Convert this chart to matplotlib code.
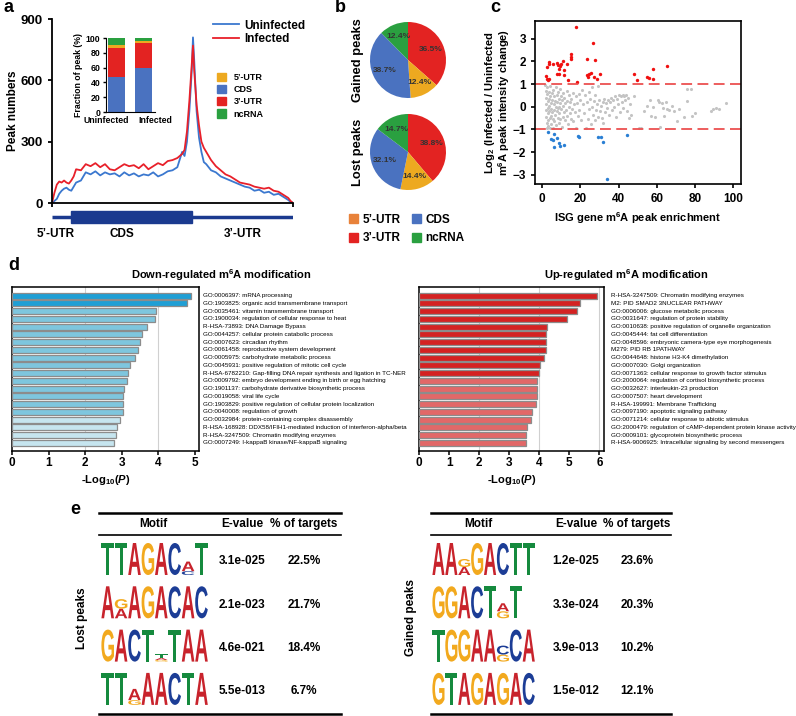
import matplotlib
matplotlib.use('Agg')
import matplotlib.pyplot as plt
from matplotlib.patches import Patch, Rectangle, PathPatch
from matplotlib.textpath import TextPath
from matplotlib.font_manager import FontProperties
from matplotlib.transforms import Affine2D

plt.rcParams['font.family'] = ['Liberation Sans', 'DejaVu Sans']
plt.rcParams['font.weight'] = 'bold'
plt.rcParams['axes.labelweight'] = 'bold'
plt.rcParams['mathtext.fontset'] = 'custom'
plt.rcParams['mathtext.rm'] = 'Liberation Sans:bold'
plt.rcParams['mathtext.bf'] = 'Liberation Sans:bold'
plt.rcParams['mathtext.it'] = 'Liberation Sans:italic:bold'

# ---------------- data ----------------
# a: metagene peak profile (bin position along transcript, 0-100)
pos = [0, 1, 2, 3, 4, 5, 6, 7, 8, 9, 10, 12, 14, 16, 18, 20, 22, 24, 26, 28, 30, 32, 34, 36, 38, 40,
       42, 44, 46, 48, 50, 52, 54, 55, 56, 57, 58, 58.5, 59, 60, 61, 62, 63, 64, 66, 68, 70, 72, 74,
       76, 78, 80, 82, 84, 86, 88, 90, 92, 94, 96, 98, 99, 100]
uninfected = [0, 10, 20, 45, 60, 70, 75, 65, 60, 80, 100, 110, 150, 140, 155, 135, 150, 140, 145, 130,
              150, 135, 145, 130, 140, 135, 150, 130, 140, 155, 160, 175, 250, 230, 300, 450, 650, 810,
              700, 450, 320, 250, 200, 190, 160, 150, 130, 120, 110, 100, 90, 80, 75, 60, 65, 50, 55,
              40, 45, 30, 15, 5, 0]
infected = [0, 50, 90, 105, 100, 110, 100, 95, 110, 130, 165, 160, 190, 180, 195, 175, 190, 165, 160,
            175, 190, 180, 185, 170, 190, 165, 180, 195, 185, 205, 210, 220, 240, 260, 350, 500, 680,
            770, 650, 480, 380, 300, 270, 250, 210, 180, 160, 140, 130, 115, 100, 95, 90, 80, 75, 70,
            75, 60, 55, 40, 25, 10, 0]
cds_start, cds_end = 8, 58

# a inset: fraction of peaks per region (%)
groups = ['Uninfected', 'Infected']
frac_cds = [47, 59]
frac_3utr = [40, 34]
frac_5utr = [3, 3]
frac_ncrna = [10, 4]

# b: pies, order 3'-UTR, 5'-UTR, CDS, ncRNA (clockwise from top)
gained = [36.5, 12.4, 38.7, 12.4]
lost = [38.8, 14.4, 32.1, 14.7]

# c: scatter (ISG enrichment, log2 fold change)
up_pts = [(2.3, 1.76), (2.1, 1.35), (2.6, 1.24), (3.1, 1.17), (3.7, 1.2), (3.5, 1.98), (3.7, 1.9),
          (5.8, 1.9), (7.9, 1.93), (8.4, 1.86), (8.9, 1.68), (9.3, 1.79), (7.9, 1.46), (8.9, 1.46),
          (10.0, 1.9), (11.0, 2.02), (11.3, 1.61), (11.3, 1.39), (12.9, 1.9), (13.6, 1.17), (14.8, 2.34),
          (14.8, 2.2), (14.8, 2.12), (17.6, 3.51), (18.3, 1.1), (23.6, 2.12), (23.6, 1.39), (24.1, 1.32),
          (24.6, 1.46), (25.3, 1.49), (26.7, 2.81), (27.6, 2.08), (27.2, 1.32), (28.4, 1.24), (30.2, 1.43),
          (48.2, 1.46), (49.7, 1.17), (54.6, 1.29), (55.6, 1.26), (57.8, 1.68), (58.1, 1.24), (65.4, 1.79)]
down_pts = [(2.8, -1.13), (4.4, -1.43), (5.4, -1.49), (6.3, -1.2), (6.1, -1.76), (7.5, -1.39), (8.6, -1.61),
            (9.4, -1.73), (11.3, -1.68), (18.8, -1.29), (19.4, -1.35), (29.3, -1.32), (30.5, -1.35),
            (31.9, -1.54), (44.2, -1.24), (33.7, -3.18)]
gray_pts = [(1.5, 0.95), (1.8, 0.7), (1.9, 0.4), (2.0, 0.1), (2.1, -0.15), (2.2, -0.45), (2.3, -0.7),
            (2.4, -0.95), (2.6, 0.85), (2.7, 0.55), (2.8, 0.25), (2.9, -0.05), (3.0, -0.3), (3.1, -0.6),
            (3.2, -0.85), (3.4, 0.65), (3.5, 0.35), (3.6, 0.05), (3.7, -0.2), (3.8, -0.5), (3.9, -0.95),
            (4.1, 0.9), (4.3, 0.45), (4.4, 0.15), (4.6, -0.1), (4.7, -0.4), (4.8, -0.75), (5.0, 0.6),
            (5.2, 0.3), (5.3, -0.25), (5.5, -0.55), (5.6, -0.95), (5.8, 0.75), (6.0, 0.1), (6.1, -0.15),
            (6.3, 0.45), (6.4, -0.65), (6.6, 0.25), (6.8, -0.35), (7.0, 0.85), (7.1, 0.0), (7.3, -0.8),
            (7.5, 0.5), (7.6, -0.2), (7.8, 0.2), (8.0, -0.5), (8.1, 0.65), (8.3, -0.05), (8.5, 0.35),
            (8.6, -0.7), (8.8, 0.0), (9.0, -0.3), (9.1, 0.8), (9.3, 0.15), (9.5, -0.55), (9.7, 0.45),
            (9.9, -0.1), (10.1, -0.9), (10.3, 0.3), (10.6, -0.45), (10.8, 0.6), (11.0, 0.05), (11.3, -0.25),
            (11.6, 0.4), (11.8, -0.6), (12.1, 0.15), (12.4, -0.15), (12.7, 0.7), (13.0, -0.4), (13.2, 0.25),
            (13.5, -0.75), (13.8, 0.0), (14.1, 0.5), (14.4, -0.3), (14.7, 0.2), (15.0, -0.55), (15.3, 0.35),
            (15.6, -0.1), (16.0, 0.6), (16.3, -0.65), (16.7, 0.1), (17.0, -0.25), (17.4, 0.45), (17.8, -0.95),
            (18.2, 0.15), (18.6, -0.4), (19.0, 0.55), (19.4, -0.15), (19.8, 0.3), (20.5, -0.6), (21.0, 0.75),
            (21.5, 0.1), (22.0, -0.3), (22.5, 0.5), (23.0, -0.95), (23.4, 0.2), (23.8, -0.55), (24.2, 0.65),
            (24.6, -0.1), (25.0, 0.35), (25.4, -0.75), (25.8, 0.0), (26.2, 0.85), (26.6, -0.35), (27.0, 0.25),
            (27.4, -0.6), (27.8, 0.5), (28.2, -0.15), (28.6, 0.1), (29.0, 0.9), (29.4, -0.45), (29.8, 0.3),
            (30.3, -0.2), (30.8, 0.05), (31.2, -0.5), (31.6, 0.2), (32.0, -0.7), (32.5, 0.35), (33.0, -0.25),
            (33.5, 0.15), (34.0, -0.05), (34.5, 0.3), (35.0, -0.35), (35.5, 0.2), (36.0, 0.4), (36.5, -0.15),
            (37.0, 0.3), (37.5, 0.0), (38.0, 0.45), (38.5, -0.45), (39.0, 0.35), (39.5, 0.1), (40.0, 0.5),
            (40.5, -0.25), (41.0, 0.45), (41.5, 0.2), (42.0, 0.5), (42.5, -0.05), (43.0, 0.45), (43.5, 0.3),
            (44.0, 0.5), (44.5, -0.2), (45.0, 0.4), (45.5, -0.5), (46.0, 0.1), (46.5, -0.35), (48.0, 0.45),
            (50.5, -0.95), (51.5, -0.95), (53.0, -0.2), (55.0, 0.05), (56.5, 0.3), (57.0, -0.4), (58.0, 0.0),
            (59.0, -0.45), (60.5, 0.3), (61.0, 0.2), (61.5, -0.9), (62.5, 0.15), (63.0, -0.05), (63.5, -0.4),
            (65.0, 0.2), (65.5, -0.1), (66.5, -0.15), (68.0, 0.05), (69.0, -0.2), (70.5, -0.65), (71.5, -0.1),
            (74.0, -0.45), (75.5, 0.25), (76.0, 0.8), (78.0, 0.8), (78.5, -0.4), (80.0, -0.3), (88.5, -0.2),
            (89.5, -0.1), (91.0, -0.05), (92.5, -0.1), (96.0, 0.15)]

# d: enrichment terms
down_terms = ['GO:0006397: mRNA processing',
              'GO:1903825: organic acid transmembrane transport',
              'GO:0035461: vitamin transmembrane transport',
              'GO:1900034: regulation of cellular response to heat',
              'R-HSA-73893: DNA Damage Bypass',
              'GO:0044257: cellular protein catabolic process',
              'GO:0007623: circadian rhythm',
              'GO:0061458: reproductive system development',
              'GO:0005975: carbohydrate metabolic process',
              'GO:0045931: positive regulation of mitotic cell cycle',
              'R-HSA-6782210: Gap-filling DNA repair synthesis and ligation in TC-NER',
              'GO:0009792: embryo development ending in birth or egg hatching',
              'GO:1901137: carbohydrate derivative biosynthetic process',
              'GO:0019058: viral life cycle',
              'GO:1903829: positive regulation of cellular protein localization',
              'GO:0040008: regulation of growth',
              'GO:0032984: protein-containing complex disassembly',
              'R-HSA-168928: DDX58/IFIH1-mediated induction of interferon-alpha/beta',
              'R-HSA-3247509: Chromatin modifying enzymes',
              'GO:0007249: I-kappaB kinase/NF-kappaB signaling']
down_vals = [4.88, 4.77, 3.93, 3.91, 3.69, 3.54, 3.51, 3.43, 3.35, 3.22, 3.18, 3.15, 3.06, 3.03, 3.03,
             3.03, 2.96, 2.87, 2.85, 2.80]
down_tier = [0, 0, 1, 1, 1, 1, 1, 1, 1, 1, 1, 1, 1, 1, 1, 1, 2, 2, 2, 2]
up_terms = ['R-HSA-3247509: Chromatin modifying enzymes',
            'M2: PID SMAD2 3NUCLEAR PATHWAY',
            'GO:0006006: glucose metabolic process',
            'GO:0031647: regulation of protein stability',
            'GO:0010638: positive regulation of organelle organization',
            'GO:0045444: fat cell differentiation',
            'GO:0048596: embryonic camera-type eye morphogenesis',
            'M279: PID RB 1PATHWAY',
            'GO:0044648: histone H3-K4 dimethylation',
            'GO:0007030: Golgi organization',
            'GO:0071363: cellular response to growth factor stimulus',
            'GO:2000064: regulation of cortisol biosynthetic process',
            'GO:0032627: interleukin-23 production',
            'GO:0007507: heart development',
            'R-HSA-199991: Membrane Trafficking',
            'GO:0097190: apoptotic signaling pathway',
            'GO:0071214: cellular response to abiotic stimulus',
            'GO:2000479: regulation of cAMP-dependent protein kinase activity',
            'GO:0009101: glycoprotein biosynthetic process',
            'R-HSA-9006925: Intracellular signaling by second messengers']
up_vals = [5.91, 5.34, 5.24, 4.92, 4.24, 4.22, 4.21, 4.21, 4.15, 4.02, 4.00, 3.92, 3.92, 3.92, 3.88,
           3.75, 3.73, 3.58, 3.55, 3.55]
up_tier = [0] * 11 + [1] * 9

# e: motifs, (X30,Y12) = small stacked letters with % height, top to bottom
lost_motifs = ['TTAGAC(A30,C12)T', 'A(G30,A30)AGACAC', 'GACT(T12,A6,G5)TAA', 'TT(A35,G15)AACTA']
lost_evalue = ['3.1e-025', '2.1e-023', '4.6e-021', '5.5e-013']
lost_pct = ['22.5%', '21.7%', '18.4%', '6.7%']
gained_motifs = ['AA(G25,A25)GACTT', 'GGACT(A25,G22)T', 'TGGAA(C28,G22)CA', 'GTAGAGAC']
gained_evalue = ['1.2e-025', '3.3e-024', '3.9e-013', '1.5e-012']
gained_pct = ['23.6%', '20.3%', '10.2%', '12.1%']

# ---------------- styles ----------------
BLUE_LINE = '#3b78cf'
RED_LINE = '#e8202a'
C5 = '#eda920'
CCDS = '#4a72c0'
C3 = '#e32322'
CNC = '#2aa040'
NAVY = '#1b3a8f'
LETTER_COL = {'A': '#c8232c', 'C': '#1c3d96', 'G': '#f2a91e', 'T': '#158a3e'}

W, H = 796, 716
fig = plt.figure(figsize=(W / 100, H / 100), dpi=100)


def rect(l, t, r, b):
    return [l / W, 1 - b / H, (r - l) / W, (b - t) / H]


def fx(px):
    return px / W


def fy(py):
    return 1 - py / H


# ---------------- panel a ----------------
ax_a = fig.add_axes(rect(52, 19, 293, 203))
ax_a.plot(pos, uninfected, color=BLUE_LINE, lw=1.3, label='Uninfected')
ax_a.plot(pos, infected, color=RED_LINE, lw=1.3, label='Infected')
ax_a.set_xlim(0, 100)
ax_a.set_ylim(0, 900)
ax_a.set_yticks([0, 300, 600, 900])
ax_a.set_xticks([0, 100])
ax_a.set_xticklabels([])
for s in ['top', 'right']:
    ax_a.spines[s].set_visible(False)
for s in ['left', 'bottom']:
    ax_a.spines[s].set_linewidth(1.3)
ax_a.tick_params(labelsize=9.5, width=1.3, length=3)
ax_a.set_ylabel('Peak numbers', fontsize=8.5, labelpad=1)
ax_a.legend(loc='upper left', bbox_to_anchor=(fx(202), fy(9)), bbox_transform=fig.transFigure,
            frameon=False, fontsize=8.5, handlelength=2.2, labelspacing=0.1, handletextpad=0.5)

# gene model
ax_g = fig.add_axes(rect(52, 205, 293, 229))
ax_g.set_xlim(0, 100)
ax_g.set_ylim(-1, 1)
ax_g.axis('off')
ax_g.plot([0, 100], [0, 0], color=NAVY, lw=2.5, solid_capstyle='butt')
ax_g.add_patch(Rectangle((cds_start, -0.46), cds_end - cds_start, 0.92, color=NAVY))
ax_g.text(1.7, -1.45, '5’-UTR', ha='center', va='center', fontsize=8.5, clip_on=False)
ax_g.text(29, -1.45, 'CDS', ha='center', va='center', fontsize=8.5, clip_on=False)
ax_g.text(79, -1.45, '3’-UTR', ha='center', va='center', fontsize=8.5, clip_on=False)

# inset stacked bars
ax_i = fig.add_axes(rect(106, 38, 155, 112))
xb = [0, 1]
bottom = [0, 0]
for vals, col in [(frac_cds, CCDS), (frac_3utr, C3), (frac_5utr, C5), (frac_ncrna, CNC)]:
    ax_i.bar(xb, vals, bottom=bottom, width=0.63, color=col)
    bottom = [b + v for b, v in zip(bottom, vals)]
ax_i.set_xlim(-0.39, 1.43)
ax_i.set_ylim(0, 100)
ax_i.set_yticks(range(0, 101, 20))
ax_i.set_xticks(xb)
ax_i.set_xticklabels([])
for s in ['top', 'right']:
    ax_i.spines[s].set_visible(False)
ax_i.tick_params(labelsize=6.3, width=1, length=2.5, pad=1.5)
ax_i.tick_params(axis='x', length=0)
ax_i.set_ylabel('Fraction of peak (%)', fontsize=6.3, labelpad=2)
# group names sit spread apart under the bars, as in the source figure
for gname, xg, ha in zip(groups, [0.45, -0.18], ['right', 'left']):
    ax_i.text(xb[groups.index(gname)] + xg, -6, gname, ha=ha, va='top', fontsize=6.3,
              transform=ax_i.transData, clip_on=False)
region_handles = [Patch(color=C5), Patch(color=CCDS), Patch(color=C3), Patch(color=CNC)]
fig.legend(region_handles, ['5’-UTR', 'CDS', '3’-UTR', 'ncRNA'], loc='upper left',
           bbox_to_anchor=(fx(209), fy(65)), fontsize=6.5, handlelength=1.0, handleheight=1.0,
           labelspacing=0.33, handletextpad=0.8, frameon=False)

# ---------------- panel b ----------------
pie_cols = [C3, C5, CCDS, CNC]
for vals, (t, b), lab in [(gained, (22, 98), 'Gained peaks'), (lost, (114, 190), 'Lost peaks')]:
    ax_p = fig.add_axes(rect(370, t, 446, b))
    ax_p.pie(vals, colors=pie_cols, startangle=90, counterclock=False, autopct='%.1f%%',
             pctdistance=0.66, textprops=dict(fontsize=6, fontweight='bold', color='#333333'),
             wedgeprops=dict(linewidth=0))
    ax_p.set_xlim(-1, 1)
    ax_p.set_ylim(-1, 1)
    fig.text(fx(358), fy((t + b) / 2), lab, rotation=90, ha='center', va='center', fontsize=9.3)
pie_handles = [Patch(color='#e8823a'), Patch(color=C3), Patch(color=CCDS), Patch(color=CNC)]
fig.legend(pie_handles, ['5’-UTR', '3’-UTR', 'CDS', 'ncRNA'], ncol=2, loc='upper left',
           bbox_to_anchor=(fx(338), fy(203)), fontsize=8.5, handlelength=0.8, handleheight=0.8,
           columnspacing=0.9, labelspacing=0.55, handletextpad=0.4, frameon=False)

# ---------------- panel c ----------------
ax_c = fig.add_axes(rect(535, 21, 741, 184))
ax_c.scatter([p[0] for p in gray_pts], [p[1] for p in gray_pts], s=5, color='#c4c4c4', lw=0)
ax_c.scatter([p[0] for p in up_pts], [p[1] for p in up_pts], s=6, color='#f01010', lw=0)
ax_c.scatter([p[0] for p in down_pts], [p[1] for p in down_pts], s=6, color='#2a7fd4', lw=0)
ax_c.axhline(1, color='#ec5050', lw=1.3, ls=(0, (6, 3)))
ax_c.axhline(-1, color='#ec5050', lw=1.3, ls=(0, (6, 3)))
ax_c.set_xlim(-3.8, 104)
ax_c.set_ylim(-3.41, 3.78)
ax_c.set_xticks(range(0, 101, 20))
ax_c.set_yticks(range(-3, 4))
ax_c.set_yticklabels(['\u22123', '\u22122', '\u22121', '0', '1', '2', '3'])
for s in ax_c.spines.values():
    s.set_linewidth(1.2)
ax_c.tick_params(labelsize=8.5, width=1.2, length=3)
ax_c.set_ylabel('Log$_2$ (Infected / Uninfected\nm$^6$A peak intensity change)', fontsize=8,
                linespacing=1.0, labelpad=0)
ax_c.set_xlabel('ISG gene m$^6$A peak enrichment', fontsize=8, labelpad=4)

# ---------------- panel d ----------------
down_pal = ['#1f9fd5', '#7ec6de', '#c6e5ef']
up_pal = ['#d42222', '#e26868']
for terms, vals, tiers, pal, (l, r), xmax, xt, lab_x, title, tcx in [
        (down_terms, down_vals, down_tier, down_pal, (12, 199), 5.11, range(0, 6), 1.022,
         'Down-regulated m$^6$A modification', 221),
        (up_terms, up_vals, up_tier, up_pal, (419, 604), 6.15, range(0, 7), 1.038,
         'Up-regulated m$^6$A modification', 626)]:
    ax_d = fig.add_axes(rect(l, 287, r, 451))
    ax_d.barh(range(len(vals)), vals, height=0.76, color=[pal[t] for t in tiers],
              edgecolor='#8c8c8c', lw=0.9, zorder=3)
    for g in range(2, int(xmax) + 1, 2):
        ax_d.axvline(g, color='#d0d0d0', lw=0.8, zorder=1)
    ax_d.set_xlim(0, xmax)
    ax_d.set_ylim(20.04, -1.12)
    ax_d.set_yticks([])
    ax_d.set_xticks(list(xt))
    for s in ax_d.spines.values():
        s.set_linewidth(1.1)
    ax_d.tick_params(labelsize=8.5, width=1.1, length=3, pad=1.5)
    ax_d.set_xlabel('-Log$_{10}$($\\mathit{P}$)', fontsize=8, labelpad=3)
    for k, t in enumerate(terms):
        ax_d.text(lab_x, k, t, transform=ax_d.get_yaxis_transform(), fontsize=4.5,
                  fontweight='normal', va='center', ha='left', clip_on=False)
    fig.text(fx(tcx), fy(275), title, ha='center', va='center', fontsize=8)

# ---------------- panel e ----------------
ax_e = fig.add_axes([0, 0, 1, 1])
ax_e.set_xlim(0, W)
ax_e.set_ylim(H, 0)
ax_e.axis('off')
ax_e.patch.set_alpha(0)
logo_fp = FontProperties(family='Liberation Sans', weight='bold')


def parse_motif(s):
    cols = []
    i = 0
    while i < len(s):
        if s[i] == '(':
            j = s.index(')', i)
            cols.append([(it[0], int(it[1:]) / 100) for it in s[i + 1:j].split(',')])
            i = j + 1
        else:
            cols.append([(s[i], 1.0)])
            i += 1
    return cols


def draw_letter(ax, ch, x, ybot, w, h):
    path = TextPath((0, 0), ch, size=1, prop=logo_fp)
    bb = path.get_extents()
    tr = Affine2D().translate(-bb.x0, -bb.y0).scale(w * 0.94 / bb.width, -h / bb.height)
    tr = tr.translate(x + w * 0.03, ybot)
    ax.add_patch(PathPatch(tr.transform_path(path), fc=LETTER_COL[ch], ec='none'))


def draw_logo(ax, motif, x0, ybot, colw, h):
    for k, col in enumerate(parse_motif(motif)):
        y = ybot
        for ch, frac in reversed(col):
            draw_letter(ax, ch, x0 + k * colw, y, colw, frac * h)
            y -= frac * h


def draw_table(ax, x0, x1, motifs, evals, pcts, logo_x, colw, hx, side, side_x):
    ax.plot([x0, x1], [513, 513], color='black', lw=1.8)
    ax.plot([x0, x1], [535, 535], color='black', lw=1.2)
    ax.plot([x0, x1], [714, 714], color='black', lw=1.8)
    for txt, x in zip(['Motif', 'E-value', '% of targets'], hx):
        ax.text(x, 524, txt, ha='center', va='center', fontsize=8.5)
    for r, (m, e, p) in enumerate(zip(motifs, evals, pcts)):
        top = 543 + r * 43.3
        draw_logo(ax, m, logo_x, top + 32, colw, 32)
        ax.text(hx[1], top + 18.5, e, ha='center', va='center', fontsize=8.5)
        ax.text(hx[2], top + 18.5, p, ha='center', va='center', fontsize=8.5)
    ax.text(side_x, 618, side, rotation=90, ha='center', va='center', fontsize=8.5)


draw_table(ax_e, 99, 341, lost_motifs, lost_evalue, lost_pct, 101, 13.4, [153, 242, 304],
           'Lost peaks', 82)
draw_table(ax_e, 431, 671, gained_motifs, gained_evalue, gained_pct, 432, 12.9, [478, 576, 637],
           'Gained peaks', 411)

# panel letters
for let, x, y in [('a', 3, 8), ('b', 335, 8), ('c', 490, 8), ('d', 8, 266), ('e', 70, 509)]:
    fig.text(fx(x), fy(y), let, fontsize=13, ha='left', va='center')

fig.savefig('out.png', dpi=100)
